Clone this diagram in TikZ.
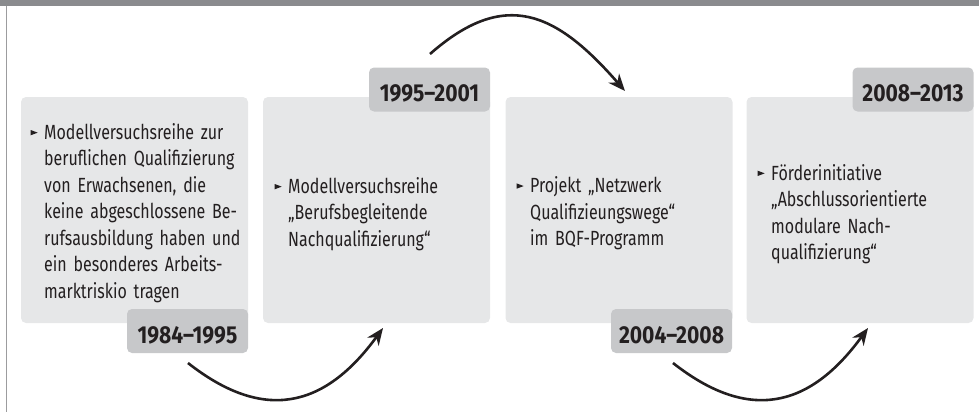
\documentclass[tikz,border=0pt]{standalone}
\usepackage{fontspec}
\usetikzlibrary{arrows.meta}
\newfontfamily\bodyfont[FakeStretch=0.78]{Fira Sans}
\newfontfamily\yearfont[FakeStretch=0.86]{Fira Sans Bold}
\definecolor{ink}{HTML}{231F20}
\definecolor{boxgray}{HTML}{E6E7E8}
\definecolor{taggray}{HTML}{C7C8CA}
\definecolor{bargray}{HTML}{8A8B8E}
\definecolor{rulegray}{HTML}{9C9C9E}
% small triangular bullet in front of each entry
\newcommand\tribullet{\tikz[baseline=0pt]\fill[ink] (0pt,4pt) -- (0pt,9.3pt) -- (7pt,6.65pt) -- cycle;}
\newcommand\entry{\llap{\tribullet\hspace{6.5pt}}}
\tikzset{
  stage/.style={fill=boxgray, rounded corners=5pt, minimum width=227pt,
    minimum height=226pt, inner sep=0pt},
  yeartag/.style={fill=taggray, rounded corners=5pt, minimum width=121pt,
    minimum height=44pt, inner sep=0pt, text height=24.6pt, text depth=0pt,
    text=ink, font=\yearfont\fontsize{24.5}{24.5}\selectfont},
  entrytext/.style={anchor=base west, inner sep=0pt, text width=200pt,
    align=left, text=ink, font=\bodyfont\fontsize{20.5}{26.5}\selectfont},
  flow/.style={line width=2.6pt, ink, -{Stealth[length=17pt,width=14pt]}}
}
\begin{document}
\begin{tikzpicture}[x=1pt,y=-1pt]
\useasboundingbox (0,0) rectangle (979,412);
% frame: grey bar on top, thin rule on the left
\fill[bargray] (0,0) rectangle (979,6);
\fill[rulegray] (5.8,6) rectangle (7.4,412);

% the four stages
\node[stage] (s1) at (134.5,210) {};
\node[stage] (s2) at (376.5,210) {};
\node[stage] (s3) at (619,210) {};
\node[stage] (s4) at (860,210) {};

% period tags
\node[yeartag] (y1) at (187.5,331) {1984–1995};
\node[yeartag] (y2) at (429.5,89.5) {1995–2001};
\node[yeartag] (y3) at (671.5,331) {2004–2008};
\node[yeartag] (y4) at (913,89.5) {2008–2013};

% entries
\node[entrytext] (t1) at (44,139.3) {\entry Modellversuchsreihe zur\\
beruflichen Qualifizierung\\ von Erwachsenen, die\\ keine abgeschlossene Be-\\
rufsausbildung haben und\\ ein besonderes Arbeits-\\ marktriskio tragen};
\node[entrytext] (t2) at (288,193.3) {\entry Modellversuchsreihe\\
„Berufsbegleitende\\ Nachqualifizierung“};
\node[entrytext] (t3) at (530,192.7) {\entry Projekt „Netzwerk\\
Qualifizieungswege“\\ im BQF-Programm};
\node[entrytext] (t4) at (771,180) {\entry Förderinitiative\\
„Abschlussorientierte\\ modulare Nach-\\ qualifizierung“};

% arrows leading from one stage to the next
\coordinate (a1s) at (188,363);
\coordinate (a1e) at (383,328);
\coordinate (a2s) at (430,54);
\coordinate (a2e) at (625,91);
\coordinate (a3s) at (673,363);
\coordinate (a3e) at (868,328);
\draw[flow] (a1s) .. controls (263,422) and (324,409) .. (a1e);
\draw[flow] (a2s) .. controls (505,-12) and (556,12) .. (a2e);
\draw[flow] (a3s) .. controls (748,422) and (809,409) .. (a3e);
\end{tikzpicture}
\end{document}
